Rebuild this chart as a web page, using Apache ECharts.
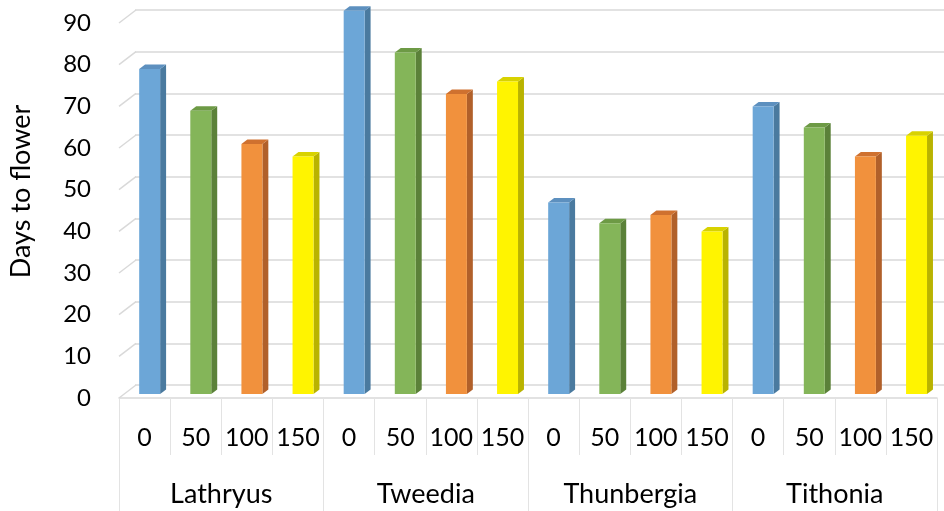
<!DOCTYPE html>
<html>
<head>
<meta charset="utf-8">
<script src="https://cdn.jsdelivr.net/npm/echarts@6/dist/echarts.min.js"></script>
<style>
  html, body { margin: 0; padding: 0; background: #fff; }
  #chart { width: 944px; height: 511px; }
</style>
</head>
<body>
<div id="chart"></div>
<script>
var groups = ['Lathryus', 'Tweedia', 'Thunbergia', 'Tithonia'];
var doses = ['0', '50', '100', '150'];
// days to flower per group, one value for each dose
var lathryus = [78, 68, 60, 57];
var tweedia = [92, 82, 72, 75];
var thunbergia = [46, 41, 43, 39];
var tithonia = [69, 64, 57, 62];
var yTicks = [0, 10, 20, 30, 40, 50, 60, 70, 80, 90];

var byGroup = [lathryus, tweedia, thunbergia, tithonia];

// front, side, top colours for each dose
var faceColors = [
  ['#6ca6d7', '#4a7a9f', '#5d90bf'],
  ['#84b559', '#5b8139', '#6d9a45'],
  ['#f1913d', '#b1602a', '#cf712f'],
  ['#fff400', '#b9b300', '#d8d200']
];

var DX = 17, DY = 13; // depth of the 3d box in pixels

var cats = [];
groups.forEach(function (g) {
  doses.forEach(function (d) { cats.push(g + '|' + d); });
});

function renderBar(params, api) {
  var x = api.value(0), v = api.value(1);
  var top = api.coord([x, v]);
  var base = api.coord([x, 0]);
  var w = api.size([1, 0])[0] * 0.41;
  var f1 = 0.3, f2 = 0.65;
  var xL = top[0] - w / 2 + DX * f1, xR = xL + w;
  var yT = top[1] - DY * f1, yB = base[1] - DY * f1;
  var dx = DX * (f2 - f1), dy = DY * (f2 - f1);
  var c = faceColors[params.seriesIndex - 1];
  return {
    type: 'group',
    children: [
      { type: 'polygon', shape: { points: [[xR, yT], [xR + dx, yT - dy], [xR + dx, yB - dy], [xR, yB]] }, style: { fill: c[1] } },
      { type: 'polygon', shape: { points: [[xL, yT], [xR, yT], [xR + dx, yT - dy], [xL + dx, yT - dy]] }, style: { fill: c[2] } },
      { type: 'rect', shape: { x: xL, y: yT, width: w, height: yB - yT }, style: { fill: c[0] } }
    ]
  };
}

var series = [{
  type: 'custom',
  xAxisIndex: 0,
  yAxisIndex: 0,
  silent: true,
  z: 1,
  data: yTicks.map(function (t) { return [0, t]; }),
  renderItem: function (params, api) {
    var p = api.coord([0, api.value(1)]);
    var x0 = params.coordSys.x;
    return {
      type: 'line',
      shape: { x1: x0, y1: p[1], x2: x0 + DX, y2: p[1] - DY },
      style: { stroke: '#d9d9d9', lineWidth: 1.5 }
    };
  }
}];

doses.forEach(function (d, di) {
  series.push({
    type: 'custom',
    name: d,
    xAxisIndex: 0,
    yAxisIndex: 0,
    z: 5,
    data: groups.map(function (g, gi) { return [gi * doses.length + di, byGroup[gi][di]]; }),
    renderItem: renderBar
  });
});

var chart = echarts.init(document.getElementById('chart'));
chart.setOption({
  animation: false,
  textStyle: { fontFamily: 'Lato' },
  grid: [
    { left: 118, top: 23, width: 819, height: 375 },
    { left: 135, top: 10, width: 819, height: 375 }
  ],
  xAxis: [
    {
      type: 'category', gridIndex: 0, data: cats,
      axisLine: { show: true, lineStyle: { color: '#d9d9d9', width: 1.5 } },
      axisTick: { show: true, interval: 0, length: 57, lineStyle: { color: '#e3e3e3', width: 1 } },
      axisLabel: {
        interval: 0, margin: 27, fontSize: 25, color: '#000',
        formatter: function (v) { return v.split('|')[1]; }
      }
    },
    { type: 'category', gridIndex: 1, data: cats, show: false },
    {
      type: 'category', gridIndex: 0, data: groups, position: 'bottom',
      axisLine: { show: false },
      axisTick: { show: true, length: 113, lineStyle: { color: '#e3e3e3', width: 1 } },
      axisLabel: { interval: 0, margin: 83, fontSize: 27, color: '#000' }
    }
  ],
  yAxis: [
    {
      type: 'value', gridIndex: 0, min: 0, max: 90, interval: 10,
      axisLine: { show: false }, axisTick: { show: false }, splitLine: { show: false },
      axisLabel: { margin: 28, fontSize: 24, color: '#000' },
      name: 'Days to flower', nameLocation: 'middle', nameGap: 84,
      nameTextStyle: { fontSize: 27, color: '#000', padding: [0, 0, 0, 38] }
    },
    {
      type: 'value', gridIndex: 1, min: 0, max: 90, interval: 10,
      axisLine: { show: false }, axisTick: { show: false }, axisLabel: { show: false },
      splitLine: { show: true, lineStyle: { color: '#d9d9d9', width: 1.5 } }
    }
  ],
  series: series
});
</script>
</body>
</html>
